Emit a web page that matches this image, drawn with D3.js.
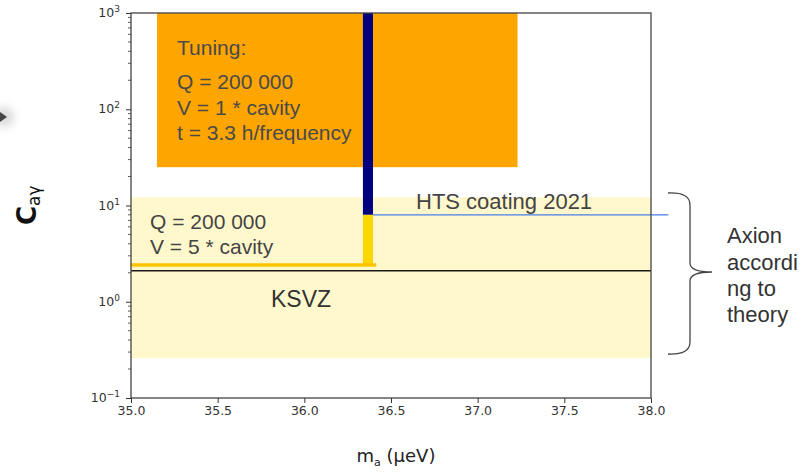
<!DOCTYPE html>
<html>
<head>
<meta charset="utf-8">
<script src="https://cdn.jsdelivr.net/npm/d3@7"></script>
<style>
  html, body { margin: 0; padding: 0; background: #fff; }
  svg { display: block; }
</style>
</head>
<body>
<svg id="chart" width="811" height="472"></svg>
<script>
// Axion mass axis (µeV) and coupling axis (log)
const xDomain = [35.0, 38.0];
const yDomain = [0.1, 1000];
const xTickValues = [35.0, 35.5, 36.0, 36.5, 37.0, 37.5, 38.0];
const yDecadeExponents = [-1, 0, 1, 2, 3];

// Tuning region: mass range and coupling range
const tuningMass = [35.15, 37.23];
const tuningCoupling = [25, 1000];

// Theory band (axion according to theory)
const theoryMass = [35.0, 38.0];
const theoryCoupling = [0.26, 12.2];

// HTS coating 2021 exclusion bar
const htsMass = [36.338, 36.396];
const htsCoupling = [8, 1000];
const htsReach = [[36.396, 8], [38.1, 8]];

// Five-cavity, Q = 200 000 sensitivity
const cavity5Coupling = [2.41, 8];
const cavity5Reach = [[35.0, 2.41], [36.415, 2.41]];

// KSVZ benchmark
const ksvzLine = [[35.0, 2.1], [38.0, 2.1]];

const tuningText = ["Tuning:", "Q = 200 000", "V = 1 * cavity", "t = 3.3 h/frequency"];
const cavity5Text = ["Q = 200 000", "V = 5 * cavity"];
const theoryText = ["Axion", "accordi", "ng to", "theory"];

const svg = d3.select("#chart");
const plot = { left: 131, right: 651, top: 13, bottom: 398 };

const x = d3.scaleLinear().domain(xDomain).range([plot.left, plot.right]);
const y = d3.scaleLog().domain(yDomain).range([plot.bottom, plot.top]);

const sans = "'Liberation Sans', Arial, sans-serif";
const axisFont = "'DejaVu Sans', Verdana, sans-serif";
const textColor = "#444";

// small slide pointer at the left edge
const defs = svg.append("defs");
defs.append("filter").attr("id", "soft").attr("x", "-1").attr("y", "-1").attr("width", "3").attr("height", "3")
  .append("feGaussianBlur").attr("stdDeviation", 4);
svg.append("circle").attr("cx", 4).attr("cy", 117).attr("r", 10)
  .attr("fill", "#bbb").attr("opacity", 0.55).attr("filter", "url(#soft)");
svg.append("path").attr("d", "M0,112 L7,117 L0,122 Z").attr("fill", "#444");

const g = svg.append("g");

// theory band
g.append("rect")
  .attr("x", x(theoryMass[0])).attr("width", x(theoryMass[1]) - x(theoryMass[0]))
  .attr("y", y(theoryCoupling[1])).attr("height", y(theoryCoupling[0]) - y(theoryCoupling[1]))
  .attr("fill", "#FFF8CD");

// tuning region
g.append("rect")
  .attr("x", x(tuningMass[0])).attr("width", x(tuningMass[1]) - x(tuningMass[0]))
  .attr("y", y(tuningCoupling[1])).attr("height", y(tuningCoupling[0]) - y(tuningCoupling[1]))
  .attr("fill", "#FFA500");

const line = d3.line().x(d => x(d[0])).y(d => y(d[1]));

// KSVZ
g.append("path").datum(ksvzLine).attr("d", line)
  .attr("stroke", "#1a1a1a").attr("stroke-width", 1.6).attr("fill", "none");

// HTS bar (navy) and five-cavity bar (gold)
g.append("rect")
  .attr("x", x(htsMass[0])).attr("width", x(htsMass[1]) - x(htsMass[0]))
  .attr("y", y(htsCoupling[1])).attr("height", y(htsCoupling[0]) - y(htsCoupling[1]))
  .attr("fill", "#000080");
g.append("rect")
  .attr("x", x(htsMass[0])).attr("width", x(htsMass[1]) - x(htsMass[0]))
  .attr("y", y(cavity5Coupling[1])).attr("height", y(cavity5Coupling[0]) - y(cavity5Coupling[1]))
  .attr("fill", "#FFD700");
g.append("path").datum(cavity5Reach).attr("d", line)
  .attr("stroke", "#FFC400").attr("stroke-width", 3.5).attr("fill", "none");

// HTS reach line
g.append("path").datum(htsReach).attr("d", line)
  .attr("stroke", "#4A7CE8").attr("stroke-width", 1.2).attr("fill", "none");

// annotations
const tuningBaselines = [55, 89, 115, 140];
tuningText.forEach((t, i) => {
  g.append("text").attr("x", x(tuningMass[0]) + 20).attr("y", tuningBaselines[i])
    .attr("font-family", sans).attr("font-size", 21).attr("fill", "#4a4a4a").text(t);
});
const cavityBaselines = [229, 254];
cavity5Text.forEach((t, i) => {
  g.append("text").attr("x", 150).attr("y", cavityBaselines[i])
    .attr("font-family", sans).attr("font-size", 21).attr("fill", textColor).text(t);
});
g.append("text").attr("x", 416).attr("y", 209)
  .attr("font-family", sans).attr("font-size", 22).attr("fill", textColor).text("HTS coating 2021");
g.append("text").attr("x", 271).attr("y", 307)
  .attr("font-family", sans).attr("font-size", 23).attr("fill", "#333").text("KSVZ");

const theoryBaselines = [243, 270, 296, 322];
theoryText.forEach((t, i) => {
  svg.append("text").attr("x", 727).attr("y", theoryBaselines[i])
    .attr("font-family", sans).attr("font-size", 22).attr("fill", "#333").text(t);
});

// curly brace beside the theory band
svg.append("path")
  .attr("d", "M668,193 Q690,192 690,205 L690,263 Q690,272 712,272 Q690,272 690,281 L690,342 Q690,355 668,354")
  .attr("fill", "none").attr("stroke", "#444").attr("stroke-width", 1.3);

// axes
const axisColor = "#333";
const xAxis = svg.append("g").attr("transform", `translate(0,${plot.bottom})`)
  .call(d3.axisBottom(x).tickValues(xTickValues).tickFormat(d3.format(".1f")).tickSize(5).tickPadding(3));
const yAxis = svg.append("g").attr("transform", `translate(${plot.left},0)`)
  .call(d3.axisLeft(y).tickValues(yDecadeExponents.map(e => Math.pow(10, e))).tickFormat("").tickSize(5));

// minor log ticks
const minor = [];
yDecadeExponents.slice(0, -1).forEach(e => {
  for (let m = 2; m <= 9; m++) minor.push(m * Math.pow(10, e));
});
yAxis.selectAll(".minor").data(minor).join("line").attr("class", "minor")
  .attr("x1", -3).attr("x2", 0).attr("y1", d => y(d)).attr("y2", d => y(d))
  .attr("stroke", axisColor).attr("stroke-width", 0.8);

[xAxis, yAxis].forEach(a => {
  a.select(".domain").remove();
  a.selectAll(".tick line").attr("stroke", axisColor).attr("stroke-width", 1);
  a.selectAll("text").attr("font-family", axisFont).attr("font-size", 12.5).attr("fill", "#333");
});

// decade labels as 10 with superscript exponent
yDecadeExponents.forEach(e => {
  const t = svg.append("text").attr("x", 120).attr("y", y(Math.pow(10, e)) + 4)
    .attr("text-anchor", "end").attr("font-family", axisFont).attr("font-size", 12.5).attr("fill", "#333");
  t.append("tspan").text("10");
  t.append("tspan").attr("dy", -5).attr("font-size", 9).text(e < 0 ? "\u2212" + Math.abs(e) : String(e));
});

// frame
svg.append("rect").attr("x", plot.left).attr("y", plot.top)
  .attr("width", plot.right - plot.left).attr("height", plot.bottom - plot.top)
  .attr("fill", "none").attr("stroke", "#444").attr("stroke-width", 1.3);

// axis titles
const xl = svg.append("text").attr("x", 396).attr("y", 462).attr("text-anchor", "middle")
  .attr("font-family", axisFont).attr("font-size", 18).attr("fill", "#222");
xl.append("tspan").text("m");
xl.append("tspan").attr("font-size", 11).attr("dy", 4).text("a");
xl.append("tspan").attr("dy", -4).text(" (\u03bceV)");

const yl = svg.append("text")
  .attr("transform", "translate(36,225) rotate(-90)")
  .attr("font-family", axisFont).attr("font-weight", "bold").attr("fill", "#111");
yl.append("tspan").attr("font-size", 26).text("C");
yl.append("tspan").attr("font-size", 17).attr("dy", 4).attr("font-weight", "normal").text("a\u03b3");
</script>
</body>
</html>
